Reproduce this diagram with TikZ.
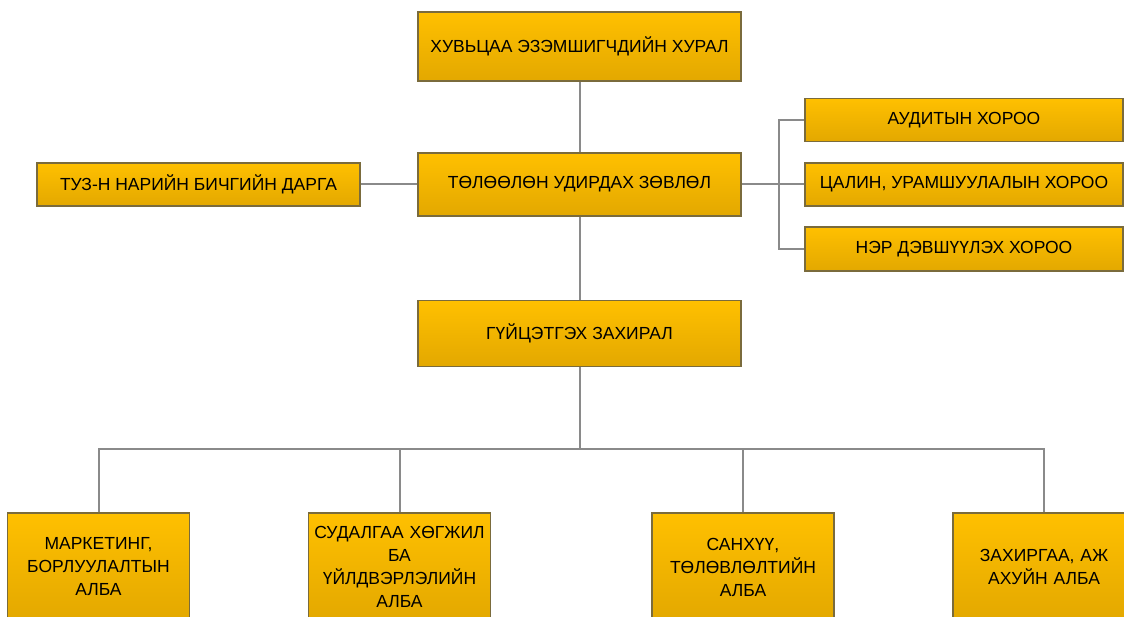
\documentclass[tikz,border=0pt]{standalone}
\usepackage{fontspec}
\setmainfont{Liberation Sans}
\usepackage{xcolor}
\usetikzlibrary{positioning,calc}

\definecolor{boxtop}{HTML}{FFC000}
\definecolor{boxbot}{HTML}{E3A800}
\definecolor{boxline}{HTML}{7A6B3C}
\definecolor{linkgray}{HTML}{8A8A8A}

\tikzset{
    unit/.style={draw=boxline, line width=1.5pt, top color=boxtop, bottom color=boxbot,
        minimum width=323pt, inner sep=2pt, align=center,
        font=\fontsize{17.5}{23}\selectfont},
    dept/.style={unit, minimum width=182pt, minimum height=108pt, text width=178pt},
    link/.style={draw=linkgray, line width=2pt}
}

\begin{document}
\begin{tikzpicture}[x=1pt, y=-1pt]
    \useasboundingbox (0,0) rectangle (1124,617);
    \clip (0,0) rectangle (1124,617);

    % top levels
    \node[unit, minimum height=69pt] (hural) at (579.5,46.5) {ХУВЬЦАА ЭЗЭМШИГЧДИЙН ХУРАЛ};
    \node[unit, minimum height=63pt] (zovlol) at (579.5,184.5) {ТӨЛӨӨЛӨН УДИРДАХ ЗӨВЛӨЛ};
    \node[unit, minimum height=43pt] (darga) at (198.5,184.5) {ТУЗ-Н НАРИЙН БИЧГИЙН ДАРГА};
    \node[unit, minimum height=66pt] (zahiral) at (579.5,333.5) {ГҮЙЦЭТГЭХ ЗАХИРАЛ};

    % committees
    \node[unit, minimum width=318pt, minimum height=43pt] (audit) at (964,120) {АУДИТЫН ХОРОО};
    \node[unit, minimum width=318pt, minimum height=43pt] (tsalin) at (964,184.5) {ЦАЛИН, УРАМШУУЛАЛЫН ХОРОО};
    \node[unit, minimum width=318pt, minimum height=44pt] (ner) at (964,249) {НЭР ДЭВШҮҮЛЭХ ХОРОО};

    % departments
    \node[dept] (marketing) at (98.5,567) {МАРКЕТИНГ,\\ БОРЛУУЛАЛТЫН\\ АЛБА};
    \node[dept] (sudalgaa) at (399.5,567) {СУДАЛГАА ХӨГЖИЛ\\ БА\\ ҮЙЛДВЭРЛЭЛИЙН\\ АЛБА};
    \node[dept] (sanhuu) at (743,567) {САНХҮҮ,\\ ТӨЛӨВЛӨЛТИЙН\\ АЛБА};
    \node[dept] (zahirgaa) at (1044,567) {ЗАХИРГАА, АЖ\\ АХУЙН АЛБА};

    % connectors
    \draw[link] (hural.south) -- (zovlol.north);
    \draw[link] (zovlol.south) -- (zahiral.north);
    \draw[link] (darga.east) -- (zovlol.west);
    \draw[link] (zovlol.east) -- (tsalin.west);
    \draw[link] (audit.west) -- ++(-25,0) |- (ner.west);
    \foreach \d in {marketing,sudalgaa,sanhuu,zahirgaa}
        \draw[link] (\d.north) -- ++(0,-63) -| (zahiral.south);
\end{tikzpicture}
\end{document}
